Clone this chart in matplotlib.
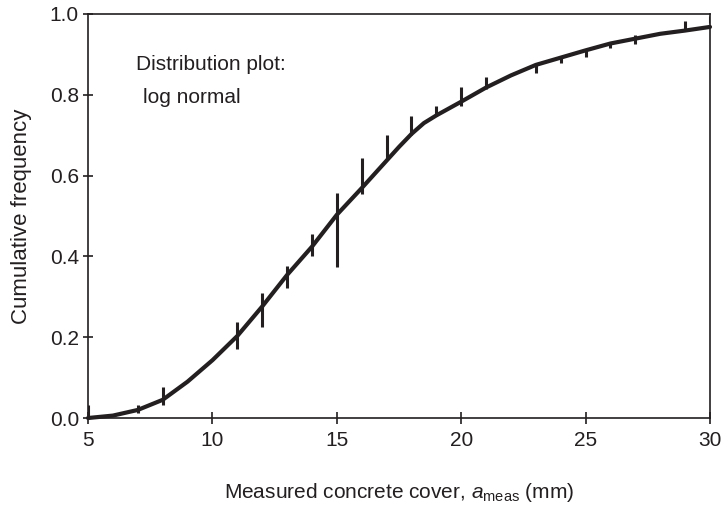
import matplotlib
matplotlib.use('Agg')
import matplotlib.pyplot as plt

plt.rcParams['font.family'] = ['Liberation Sans', 'DejaVu Sans']
plt.rcParams['mathtext.fontset'] = 'custom'
plt.rcParams['mathtext.rm'] = 'Liberation Sans'
plt.rcParams['mathtext.it'] = 'Liberation Sans:italic'

# fitted log normal curve
cover = [5, 6, 7, 8, 9, 10, 11, 12, 13, 14, 15, 16, 17, 17.5, 18, 18.5, 19,
         20, 21, 22, 23, 24, 25, 26, 27, 28, 29, 30]
fitted = [0.0, 0.006, 0.02, 0.045, 0.09, 0.143, 0.203, 0.276, 0.354, 0.424,
          0.503, 0.569, 0.637, 0.671, 0.703, 0.73, 0.749, 0.783, 0.818,
          0.848, 0.874, 0.892, 0.91, 0.927, 0.939, 0.951, 0.959, 0.968]

# measured steps (cumulative frequency before / after each cover value)
step_x = [5, 7, 8, 11, 12, 13, 14, 15, 16, 17, 18, 19, 20, 21, 23, 24, 25,
          26, 27, 29, 30]
step_lo = [0.0, 0.012, 0.032, 0.17, 0.225, 0.322, 0.40, 0.373, 0.554, 0.641,
           0.70, 0.748, 0.772, 0.814, 0.853, 0.879, 0.893, 0.915, 0.926,
           0.958, 0.978]
step_hi = [0.032, 0.032, 0.077, 0.238, 0.31, 0.376, 0.455, 0.558, 0.644,
           0.70, 0.748, 0.772, 0.819, 0.843, 0.876, 0.893, 0.914, 0.93,
           0.948, 0.982, 0.996]

ink = '#231f20'

fig = plt.figure(figsize=(7.22, 5.07), dpi=100)
ax = fig.add_axes([0.1219, 0.1755, 0.8615, 0.7969])

ax.vlines(step_x, step_lo, step_hi, color=ink, linewidth=2.2, zorder=3)
ax.plot(cover, fitted, color=ink, linewidth=3.0, solid_joinstyle='round',
        solid_capstyle='round', zorder=4, clip_on=False)

ax.set_xlim(5, 30)
ax.set_ylim(0, 1.0)
ax.set_xticks([5, 10, 15, 20, 25, 30])
ax.set_yticks([0.0, 0.2, 0.4, 0.6, 0.8, 1.0])
ax.set_yticklabels(['0.0', '0.2', '0.4', '0.6', '0.8', '1.0'])
ax.tick_params(axis='x', direction='inout', length=9, width=1.2, colors=ink,
               labelsize=15, pad=5)
ax.tick_params(axis='y', direction='inout', length=7, width=1.2, colors=ink,
               labelsize=15, pad=3)
for s in ax.spines.values():
    s.set_color(ink)
    s.set_linewidth(1.2)

ax.set_xlabel(r'Measured concrete cover, $\mathit{a}_{\mathrm{meas}}$ (mm)',
              fontsize=15, color=ink, labelpad=22)
ax.set_ylabel('Cumulative frequency', fontsize=16, color=ink, labelpad=13)

ax.text(6.93, 0.876, 'Distribution plot:', fontsize=15, color=ink, va='center')
ax.text(7.21, 0.793, 'log normal', fontsize=15, color=ink, va='center')

plt.savefig('out.png', dpi=100)
